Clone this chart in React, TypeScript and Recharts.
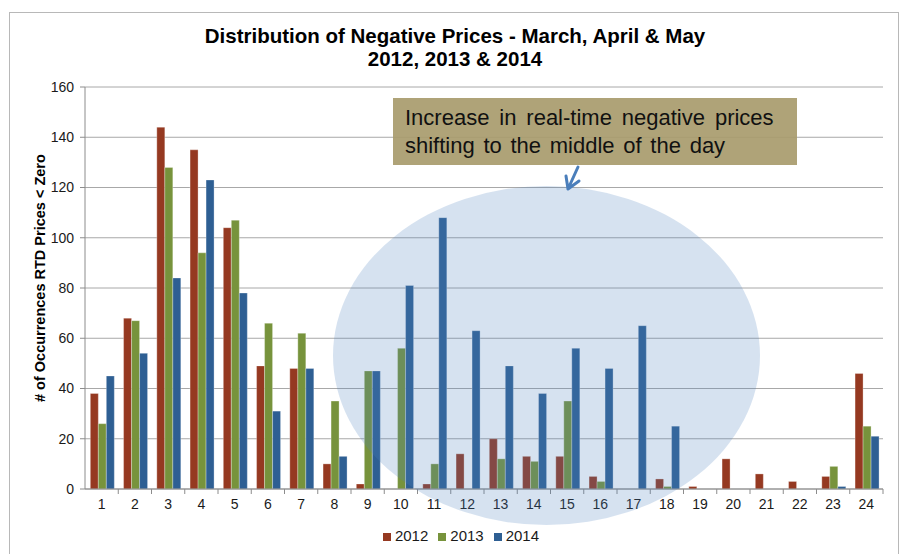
import { Bar, BarChart, CartesianGrid, Legend, XAxis, YAxis } from 'recharts'

const hours = ['1', '2', '3', '4', '5', '6', '7', '8', '9', '10', '11', '12', '13', '14', '15', '16', '17', '18', '19', '20', '21', '22', '23', '24']
const y2012 = [38, 68, 144, 135, 104, 49, 48, 10, 2, 0, 2, 14, 20, 13, 13, 5, 0, 4, 1, 12, 6, 3, 5, 46]
const y2013 = [26, 67, 128, 94, 107, 66, 62, 35, 47, 56, 10, 0, 12, 11, 35, 3, 0, 1, 0, 0, 0, 0, 9, 25]
const y2014 = [45, 54, 84, 123, 78, 31, 48, 13, 47, 81, 108, 63, 49, 38, 56, 48, 65, 25, 0, 0, 0, 0, 1, 21]
const yTicks = [0, 20, 40, 60, 80, 100, 120, 140, 160]

const chartData = hours.map((hour, i) => ({
  hour,
  '2012': y2012[i],
  '2013': y2013[i],
  '2014': y2014[i],
}))

const FONT = '"Liberation Sans", Arial, sans-serif'
const BAND = 798 / hours.length

// Excel style: label under the category, tick mark at the category boundary
function HourTick(props: any) {
  const { x, y, payload } = props
  return (
    <g>
      <line x1={x + BAND / 2} x2={x + BAND / 2} y1={y - 8} y2={y - 3} stroke="#8c8c8c" />
      <text x={x} y={y + 12} textAnchor="middle" fontSize={14} fill="#1a1a1a" fontFamily={FONT}>
        {payload.value}
      </text>
    </g>
  )
}

export default function App() {
  return (
    <div style={{ position: 'absolute', left: 0, top: 0, width: 900, height: 554, background: '#fff', fontFamily: FONT }}>
      <div style={{ position: 'absolute', left: 9, top: 12, width: 888, height: 560, border: '1px solid #b8b8b8' }} />
      <div style={{ position: 'absolute', left: 5, top: 24, width: 900, textAlign: 'center', fontWeight: 'bold', fontSize: 20.5, lineHeight: '23px', color: '#000' }}>
        Distribution of Negative Prices - March, April &amp; May
        <br />
        2012, 2013 &amp; 2014
      </div>
      <div style={{ position: 'absolute', left: 0, top: 0 }}>
        <BarChart width={900} height={554} data={chartData} margin={{ top: 87, right: 17, bottom: 10, left: 25 }} barGap={0} barCategoryGap="16%">
          <CartesianGrid vertical={false} stroke="#a8a8a8" />
          <XAxis
            dataKey="hour"
            height={38}
            stroke="#8c8c8c"
            tickLine={false}
            tick={<HourTick />}
            interval={0}
          />
          <YAxis
            width={60}
            domain={[0, 160]}
            ticks={yTicks}
            stroke="#8c8c8c"
            tickSize={5}
            tickMargin={6}
            tick={{ fontSize: 14, fill: '#1a1a1a', fontFamily: FONT }}
            label={{
              value: '# of Occurrences RTD Prices < Zero',
              angle: -90,
              position: 'insideLeft',
              dx: 10,
              dy: 114,
              style: { fontSize: 14.5, fontWeight: 'bold', fill: '#000', fontFamily: FONT },
            }}
          />
          <Legend
            verticalAlign="bottom"
            iconType="square"
            iconSize={8}
            wrapperStyle={{ fontSize: 15, color: '#1a1a1a', fontFamily: FONT, paddingLeft: 12 }}
            formatter={(v) => <span style={{ color: '#1a1a1a' }}>{v}</span>}
          />
          <Bar dataKey="2012" fill="#953921" stroke="#ffffff" strokeOpacity={0.5} strokeWidth={0.6} isAnimationActive={false} />
          <Bar dataKey="2013" fill="#77933c" stroke="#ffffff" strokeOpacity={0.5} strokeWidth={0.6} isAnimationActive={false} />
          <Bar dataKey="2014" fill="#2e5f93" stroke="#ffffff" strokeOpacity={0.5} strokeWidth={0.6} isAnimationActive={false} />
        </BarChart>
      </div>
      <svg width={900} height={554} style={{ position: 'absolute', left: 0, top: 0, pointerEvents: 'none' }}>
        <ellipse cx={546.5} cy={355.5} rx={213.5} ry={169.5} fill="#4f81bd" fillOpacity={0.23} />
        <rect x={393} y={98} width={404} height={67} fill="#a89b6c" fillOpacity={0.92} />
        <text x={405} y={125} fontSize={22} fill="#111" fontFamily={FONT} wordSpacing={3.8}>
          Increase in real-time negative prices
        </text>
        <text x={405} y={153} fontSize={22} fill="#111" fontFamily={FONT} wordSpacing={2.6}>
          shifting to the middle of the day
        </text>
        <path d="M578 167 L568 189 M568 189 L566 176 M568 189 L579 181" stroke="#4a7ebb" strokeWidth={3} fill="none" strokeLinecap="round" />
      </svg>
    </div>
  )
}
